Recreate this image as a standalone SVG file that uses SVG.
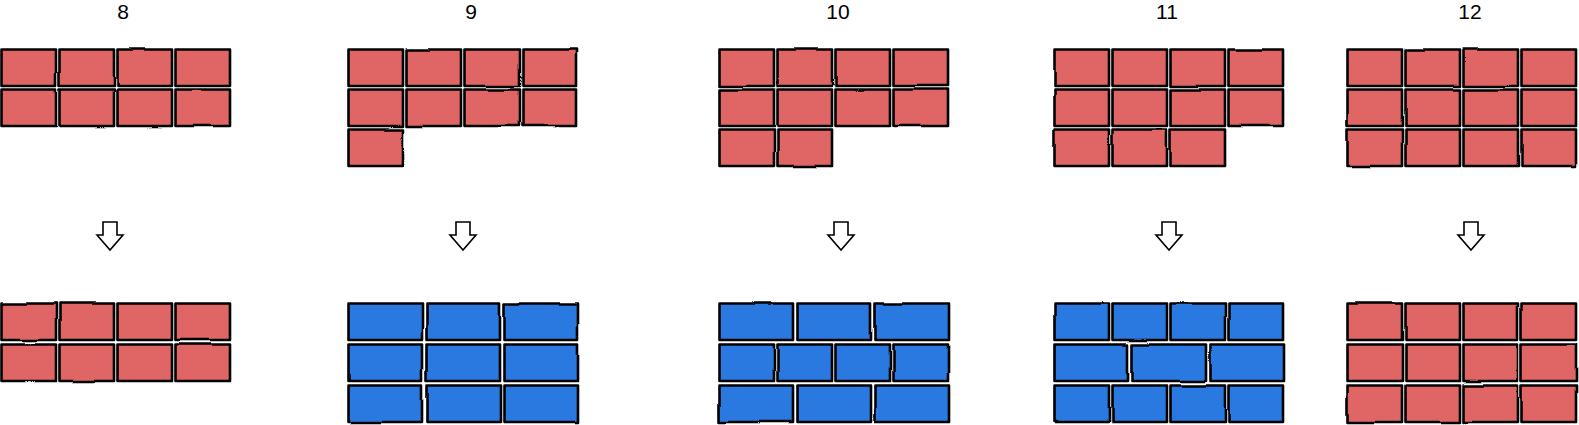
<svg xmlns="http://www.w3.org/2000/svg" width="1579" height="425" viewBox="0 0 1579 425">
<style>
.r{fill:#E06666;stroke:#000;stroke-width:2.6;stroke-linejoin:round}
.b{fill:#2B79E0;stroke:#000;stroke-width:2.6;stroke-linejoin:round}
.lbl{font-family:"Liberation Sans",Arial,sans-serif;font-size:21px;fill:#000;text-anchor:middle}
.arr{fill:#fff;stroke:#000;stroke-width:1.6;stroke-linejoin:miter}
.sk{filter:url(#rough)}
</style>
<defs>
<filter id="rough" x="-3%" y="-8%" width="106%" height="116%">
<feTurbulence type="fractalNoise" baseFrequency="0.018" numOctaves="1" seed="7" result="n"/>
<feDisplacementMap in="SourceGraphic" in2="n" scale="3" xChannelSelector="R" yChannelSelector="G"/>
</filter>
<rect id="rc" class="r" width="54.5" height="36.5"/>
<rect id="bs" class="b" width="54.5" height="36.5"/>
<rect id="bw" class="b" width="73.5" height="36.5"/>
<path id="ar" class="arr" d="M-7,222 L7,222 L7,235 L13,235 L0,250 L-13,235 L-7,235 Z"/>
</defs>
<rect width="1579" height="425" fill="#fff"/>
<g id="labels">
<text class="lbl" x="123" y="19">8</text>
<text class="lbl" x="471" y="19">9</text>
<text class="lbl" x="838" y="19">10</text>
<text class="lbl" x="1167" y="19">11</text>
<text class="lbl" x="1470" y="19">12</text>
</g>
<g id="grid-8-before" class="sk">
<use href="#rc" x="1.5" y="49.5"/><use href="#rc" x="59.5" y="49.5"/><use href="#rc" x="117.5" y="49.5"/><use href="#rc" x="175.5" y="49.5"/>
<use href="#rc" x="1.5" y="89.5"/><use href="#rc" x="59.5" y="89.5"/><use href="#rc" x="117.5" y="89.5"/><use href="#rc" x="175.5" y="89.5"/>
</g>
<g id="grid-9-before" class="sk">
<use href="#rc" x="348.5" y="49.5"/><use href="#rc" x="406.5" y="49.5"/><use href="#rc" x="464.5" y="49.5"/><use href="#rc" x="522.5" y="49.5"/>
<use href="#rc" x="348.5" y="89.5"/><use href="#rc" x="406.5" y="89.5"/><use href="#rc" x="464.5" y="89.5"/><use href="#rc" x="522.5" y="89.5"/>
<use href="#rc" x="348.5" y="129.5"/>
</g>
<g id="grid-10-before" class="sk">
<use href="#rc" x="719.5" y="49.5"/><use href="#rc" x="777.5" y="49.5"/><use href="#rc" x="835.5" y="49.5"/><use href="#rc" x="893.5" y="49.5"/>
<use href="#rc" x="719.5" y="89.5"/><use href="#rc" x="777.5" y="89.5"/><use href="#rc" x="835.5" y="89.5"/><use href="#rc" x="893.5" y="89.5"/>
<use href="#rc" x="719.5" y="129.5"/><use href="#rc" x="777.5" y="129.5"/>
</g>
<g id="grid-11-before" class="sk">
<use href="#rc" x="1054.5" y="49.5"/><use href="#rc" x="1112.5" y="49.5"/><use href="#rc" x="1170.5" y="49.5"/><use href="#rc" x="1228.5" y="49.5"/>
<use href="#rc" x="1054.5" y="89.5"/><use href="#rc" x="1112.5" y="89.5"/><use href="#rc" x="1170.5" y="89.5"/><use href="#rc" x="1228.5" y="89.5"/>
<use href="#rc" x="1054.5" y="129.5"/><use href="#rc" x="1112.5" y="129.5"/><use href="#rc" x="1170.5" y="129.5"/>
</g>
<g id="grid-12-before" class="sk">
<use href="#rc" x="1347.5" y="49.5"/><use href="#rc" x="1405.5" y="49.5"/><use href="#rc" x="1463.5" y="49.5"/><use href="#rc" x="1521.5" y="49.5"/>
<use href="#rc" x="1347.5" y="89.5"/><use href="#rc" x="1405.5" y="89.5"/><use href="#rc" x="1463.5" y="89.5"/><use href="#rc" x="1521.5" y="89.5"/>
<use href="#rc" x="1347.5" y="129.5"/><use href="#rc" x="1405.5" y="129.5"/><use href="#rc" x="1463.5" y="129.5"/><use href="#rc" x="1521.5" y="129.5"/>
</g>
<g id="connectors">
<use href="#ar" x="110" y="0"/>
<use href="#ar" x="463" y="0"/>
<use href="#ar" x="841" y="0"/>
<use href="#ar" x="1169" y="0"/>
<use href="#ar" x="1471" y="0"/>
</g>
<g id="grid-8-after" class="sk">
<use href="#rc" x="1.5" y="303.5"/><use href="#rc" x="59.5" y="303.5"/><use href="#rc" x="117.5" y="303.5"/><use href="#rc" x="175.5" y="303.5"/>
<use href="#rc" x="1.5" y="344.5"/><use href="#rc" x="59.5" y="344.5"/><use href="#rc" x="117.5" y="344.5"/><use href="#rc" x="175.5" y="344.5"/>
</g>
<g id="grid-9-after" class="sk">
<use href="#bw" x="348.5" y="303.5"/><use href="#bw" x="426.5" y="303.5"/><use href="#bw" x="504.5" y="303.5"/>
<use href="#bw" x="348.5" y="344.5"/><use href="#bw" x="426.5" y="344.5"/><use href="#bw" x="504.5" y="344.5"/>
<use href="#bw" x="348.5" y="385.5"/><use href="#bw" x="427.5" y="385.5"/><use href="#bw" x="504.5" y="385.5"/>
</g>
<g id="grid-10-after" class="sk">
<use href="#bw" x="719.5" y="303.5"/><use href="#bw" x="797.5" y="303.5"/><use href="#bw" x="875.5" y="303.5"/>
<use href="#bs" x="719.5" y="344.5"/><use href="#bs" x="777.5" y="344.5"/><use href="#bs" x="835.5" y="344.5"/><use href="#bs" x="893.5" y="344.5"/>
<use href="#bw" x="719.5" y="385.5"/><use href="#bw" x="797.5" y="385.5"/><use href="#bw" x="875.5" y="385.5"/>
</g>
<g id="grid-11-after" class="sk">
<use href="#bs" x="1054.5" y="303.5"/><use href="#bs" x="1112.5" y="303.5"/><use href="#bs" x="1170.5" y="303.5"/><use href="#bs" x="1228.5" y="303.5"/>
<use href="#bw" x="1054.5" y="344.5"/><use href="#bw" x="1132.5" y="344.5"/><use href="#bw" x="1210.5" y="344.5"/>
<use href="#bs" x="1054.5" y="385.5"/><use href="#bs" x="1112.5" y="385.5"/><use href="#bs" x="1170.5" y="385.5"/><use href="#bs" x="1228.5" y="385.5"/>
</g>
<g id="grid-12-after" class="sk">
<use href="#rc" x="1347.5" y="303.5"/><use href="#rc" x="1405.5" y="303.5"/><use href="#rc" x="1463.5" y="303.5"/><use href="#rc" x="1521.5" y="303.5"/>
<use href="#rc" x="1347.5" y="344.5"/><use href="#rc" x="1405.5" y="344.5"/><use href="#rc" x="1463.5" y="344.5"/><use href="#rc" x="1521.5" y="344.5"/>
<use href="#rc" x="1347.5" y="385.5"/><use href="#rc" x="1405.5" y="385.5"/><use href="#rc" x="1463.5" y="385.5"/><use href="#rc" x="1521.5" y="385.5"/>
</g>
</svg>
